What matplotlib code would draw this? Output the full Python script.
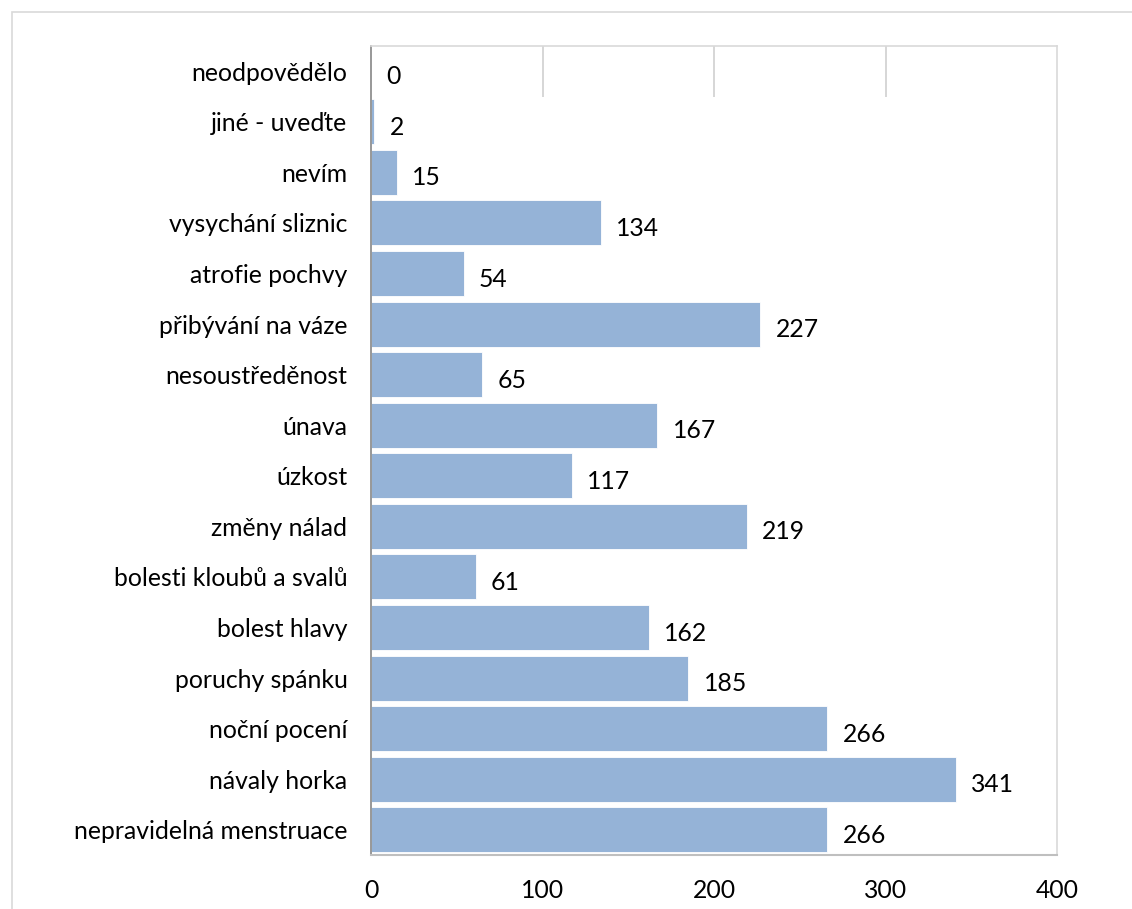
import matplotlib.pyplot as plt
from matplotlib.patches import Rectangle

# categories listed bottom to top, as drawn
categories = [
    "nepravidelná menstruace", "návaly horka", "noční pocení", "poruchy spánku",
    "bolest hlavy", "bolesti kloubů a svalů", "změny nálad", "úzkost", "únava",
    "nesoustředěnost", "přibývání na váze", "atrofie pochvy", "vysychání sliznic",
    "nevím", "jiné - uveďte", "neodpovědělo",
]
counts = [266, 341, 266, 185, 162, 61, 219, 117, 167, 65, 227, 54, 134, 15, 2, 0]
x_ticks = [0, 100, 200, 300, 400]

plt.rcParams['font.family'] = ['Lato', 'DejaVu Sans']
FS = 17.8

fig = plt.figure(figsize=(11.32, 9.09), dpi=100)
# outer chart frame (cut off at right/bottom like the original)
fig.patches.append(Rectangle((12 / 1132, -0.1), 1.2, 1 - 12 / 909 + 0.1,
                             transform=fig.transFigure, fill=False,
                             edgecolor="#D9D9D9", linewidth=1.2))

ax = fig.add_axes([371 / 1132, 1 - 855 / 909, 686 / 1132, 809 / 909])
y = list(range(len(categories)))
ax.barh(y, counts, height=0.89, color="#95B3D7", edgecolor="#FFFFFF",
        linewidth=0.6, zorder=2)

# gridlines visible only in the top (empty) band
ax.vlines(x_ticks[1:4], y[-1] - 0.5, y[-1] + 0.5, color="#D0D0D0",
          linewidth=1.2, zorder=1)

for yi, v in zip(y, counts):
    ax.annotate(str(v), (v, yi), xytext=(11, -4), textcoords="offset points",
                ha="left", va="center", fontsize=FS, color="#000000")

ax.set_xlim(0, 400)
ax.set_ylim(-0.5, len(categories) - 0.5)
ax.set_xticks(x_ticks)
ax.set_xticklabels([str(t) for t in x_ticks])
ax.set_yticks(y)
ax.set_yticklabels(categories)
ax.tick_params(axis="both", length=0, labelsize=FS)
ax.tick_params(axis="y", pad=17)
ax.tick_params(axis="x", pad=17)

for side in ["top", "right"]:
    ax.spines[side].set_color("#D9D9D9")
    ax.spines[side].set_linewidth(1.2)
ax.spines["bottom"].set_color("#BFBFBF")
ax.spines["bottom"].set_linewidth(1.5)
ax.spines["left"].set_color("#868686")
ax.spines["left"].set_linewidth(1.2)

fig.savefig("out.png", dpi=100)
